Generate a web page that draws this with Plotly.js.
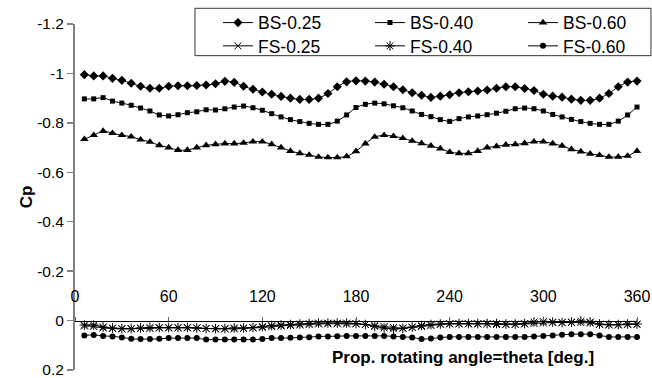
<!DOCTYPE html>
<html>
<head>
<meta charset="utf-8">
<script src="https://cdn.plot.ly/plotly-3.0.1.min.js"></script>
<style>html,body{margin:0;padding:0;background:#fff;}#chart{width:652px;height:378px;}</style>
</head>
<body>
<div id="chart"></div>
<script>
// ---- data ----
var angles = [6,12,18,24,30,36,42,48,54,60,66,72,78,84,90,96,102,108,114,120,
  126,132,138,144,150,156,162,168,174,180,186,192,198,204,210,216,222,228,234,240,
  246,252,258,264,270,276,282,288,294,300,306,312,318,324,330,336,342,348,354,360];

var bs025 = [-0.995,-0.990,-0.990,-0.980,-0.972,-0.960,-0.948,-0.940,-0.940,-0.948,
  -0.950,-0.950,-0.951,-0.953,-0.958,-0.968,-0.964,-0.948,-0.936,-0.925,
  -0.916,-0.907,-0.900,-0.895,-0.895,-0.900,-0.919,-0.946,-0.966,-0.970,
  -0.969,-0.965,-0.956,-0.946,-0.934,-0.922,-0.912,-0.903,-0.908,-0.914,
  -0.922,-0.926,-0.929,-0.933,-0.940,-0.946,-0.946,-0.939,-0.931,-0.916,
  -0.908,-0.904,-0.896,-0.891,-0.891,-0.900,-0.919,-0.946,-0.965,-0.969];

var bs040 = [-0.897,-0.897,-0.902,-0.888,-0.880,-0.871,-0.860,-0.848,-0.832,-0.828,
  -0.833,-0.841,-0.845,-0.853,-0.852,-0.857,-0.864,-0.868,-0.861,-0.851,
  -0.837,-0.824,-0.813,-0.805,-0.798,-0.794,-0.794,-0.807,-0.832,-0.862,
  -0.875,-0.880,-0.877,-0.869,-0.861,-0.848,-0.834,-0.825,-0.813,-0.806,
  -0.817,-0.824,-0.828,-0.833,-0.839,-0.847,-0.857,-0.860,-0.857,-0.848,
  -0.834,-0.824,-0.814,-0.805,-0.798,-0.794,-0.794,-0.807,-0.832,-0.864];

var bs060 = [-0.734,-0.750,-0.767,-0.758,-0.750,-0.744,-0.732,-0.723,-0.709,-0.700,
  -0.690,-0.690,-0.700,-0.709,-0.713,-0.716,-0.716,-0.719,-0.724,-0.724,
  -0.713,-0.700,-0.686,-0.677,-0.670,-0.662,-0.660,-0.660,-0.664,-0.685,
  -0.716,-0.743,-0.750,-0.746,-0.738,-0.727,-0.717,-0.707,-0.696,-0.682,
  -0.677,-0.677,-0.686,-0.700,-0.705,-0.711,-0.713,-0.717,-0.724,-0.724,
  -0.716,-0.707,-0.693,-0.684,-0.675,-0.669,-0.662,-0.662,-0.666,-0.686];

var fs025 = [0.022,0.024,0.030,0.032,0.034,0.034,0.032,0.032,0.030,0.030,
  0.030,0.030,0.030,0.032,0.034,0.034,0.034,0.032,0.030,0.028,
  0.025,0.022,0.020,0.018,0.016,0.014,0.013,0.013,0.014,0.014,
  0.016,0.020,0.024,0.028,0.030,0.028,0.024,0.020,0.016,0.014,
  0.014,0.014,0.014,0.014,0.016,0.016,0.016,0.014,0.012,0.010,
  0.008,0.008,0.008,0.008,0.010,0.016,0.018,0.018,0.016,0.016];

var fs040 = [0.018,0.018,0.026,0.030,0.032,0.032,0.030,0.028,0.028,0.028,
  0.028,0.028,0.030,0.032,0.032,0.032,0.030,0.030,0.028,0.024,
  0.020,0.018,0.016,0.014,0.012,0.010,0.010,0.010,0.010,0.012,
  0.016,0.024,0.030,0.034,0.032,0.026,0.020,0.016,0.014,0.012,
  0.012,0.012,0.012,0.012,0.012,0.014,0.014,0.012,0.006,0.004,
  0.006,0.008,0.006,0.002,0.006,0.014,0.016,0.016,0.014,0.014];

var fs060 = [0.060,0.058,0.062,0.064,0.068,0.074,0.075,0.075,0.074,0.071,
  0.071,0.071,0.071,0.077,0.077,0.077,0.077,0.077,0.077,0.075,
  0.071,0.071,0.070,0.068,0.067,0.064,0.064,0.063,0.062,0.062,
  0.062,0.062,0.062,0.064,0.066,0.068,0.075,0.073,0.069,0.066,
  0.066,0.066,0.066,0.066,0.066,0.066,0.066,0.066,0.064,0.062,
  0.060,0.057,0.055,0.055,0.055,0.060,0.066,0.066,0.066,0.066];

var seriesNames = ['BS-0.25','BS-0.40','BS-0.60','FS-0.25','FS-0.40','FS-0.60'];

var xTickVals = [0,60,120,180,240,300,360];
var xTickText = ['0','60','120','180','240','300','360'];
var yTickVals = [-1.2,-1,-0.8,-0.6,-0.4,-0.2,0,0.2];
var yTickText = ['-1.2','-1','-0.8','-0.6','-0.4','-0.2','0','0.2'];
var yRange = [0.2,-1.2];
var xRange = [0,360];

var xTitle = 'Prop. rotating angle=theta [deg.]';
var yTitle = 'Cp';

// ---- traces ----
var lineStyle = {color:'#000', width:1, shape:'spline', smoothing:0.6};
function tr(y, name, sym, size, leg, open) {
  var mk = {symbol:sym, size:size, color:'#000'};
  if (open) mk.line = {color:'#000', width:1};
  return {x:angles, y:y, name:name, type:'scatter', mode:'lines+markers',
          line:lineStyle, marker:mk, legend:leg, cliponaxis:false};
}
var data = [
  tr(bs025, seriesNames[0], 'diamond', 7, 'legend', false),
  tr(bs040, seriesNames[1], 'square', 5, 'legend2', false),
  tr(bs060, seriesNames[2], 'triangle-up', 7.5, 'legend3', false),
  tr(fs025, seriesNames[3], 'x-thin-open', 7, 'legend4', true),
  tr(fs040, seriesNames[4], 'asterisk-open', 8, 'legend5', true),
  tr(fs060, seriesNames[5], 'circle', 6, 'legend6', false)
];

// position of the x-axis line at y = 0 (fraction of the plot height)
var xPos = (0 - yRange[0]) / (yRange[1] - yRange[0]);

function leg(x, y) {
  return {x:x, y:y, xanchor:'left', yanchor:'top', orientation:'v',
    bgcolor:'rgba(0,0,0,0)', borderwidth:0, font:{size:17.5, color:'#000'}};
}
var colX = [0.2544, 0.5249, 0.7972];
var rowY = [1.0557, 0.9885];

var layout = {
  width:652, height:378,
  margin:{l:75, r:15, t:24, b:8, autoexpand:false},
  paper_bgcolor:'#fff', plot_bgcolor:'#fff',
  font:{family:'"Liberation Sans", Arial, sans-serif', color:'#000', size:16},
  showlegend:true,
  xaxis:{range:xRange, tickmode:'array', tickvals:xTickVals, ticktext:xTickText,
    side:'top', anchor:'free', position:xPos,
    showline:true, linecolor:'#000', linewidth:1,
    ticks:'outside', ticklen:4, tickcolor:'#666', tickwidth:1,
    showgrid:false, zeroline:false, ticklabelstandoff:8, ticklabeloverflow:'allow',
    tickfont:{size:16, color:'#000'}},
  yaxis:{range:yRange, tickmode:'array', tickvals:yTickVals, ticktext:yTickText,
    showline:true, linecolor:'#808080', linewidth:2,
    ticks:'outside', ticklen:6, tickcolor:'#808080', tickwidth:1.5,
    showgrid:false, zeroline:false, ticklabeloverflow:'allow',
    tickfont:{size:15.5, color:'#000'},
    title:{text:yTitle, font:{size:17, weight:'bold', color:'#000'}, standoff:0}},
  legend: leg(colX[0], rowY[0]),
  legend2: leg(colX[1], rowY[0]),
  legend3: leg(colX[2], rowY[0]),
  legend4: leg(colX[0], rowY[1]),
  legend5: leg(colX[1], rowY[1]),
  legend6: leg(colX[2], rowY[1]),
  shapes:[{type:'rect', xref:'paper', yref:'paper', x0:0.2135, x1:1.0249, y0:0.9085, y1:1.0454,
    line:{color:'#333', width:1}, fillcolor:'rgba(0,0,0,0)', layer:'below'}],
  annotations:[{xref:'paper', yref:'paper', x:0.690, y:0.0347, xanchor:'center', yanchor:'middle',
    text:xTitle, showarrow:false, font:{size:17, weight:'bold', color:'#000'}}]
};

Plotly.newPlot('chart', data, layout, {staticPlot:true, displayModeBar:false});
</script>
</body>
</html>
